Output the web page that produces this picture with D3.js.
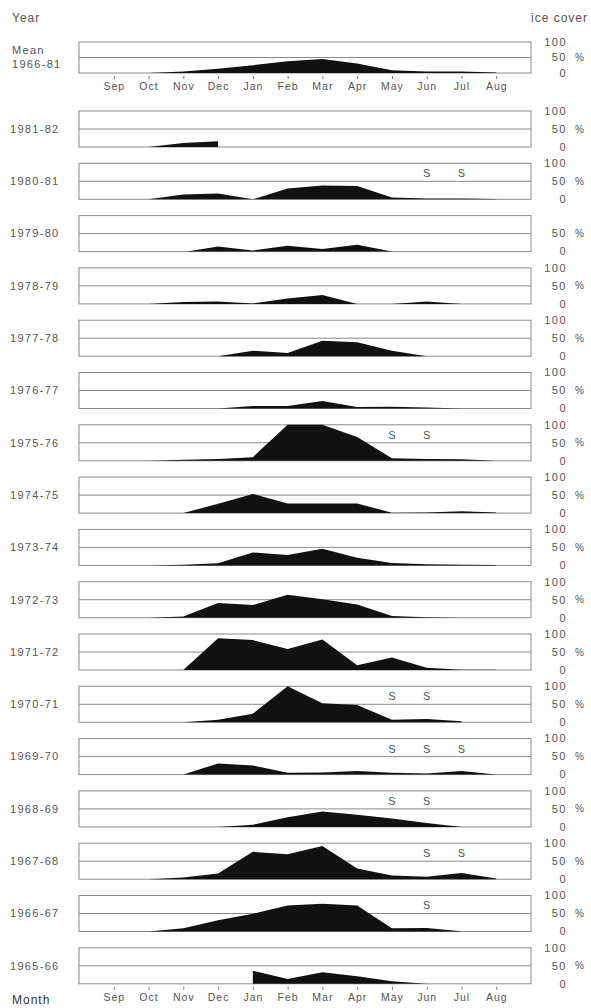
<!DOCTYPE html>
<html>
<head>
<meta charset="utf-8">
<script src="https://cdn.jsdelivr.net/npm/d3@7"></script>
<style>
  body { margin: 0; background: #fff; }
  svg text { font-family: "Liberation Sans", Arial, sans-serif; fill: #555; }
</style>
</head>
<body>
<svg id="chart" width="591" height="1008"></svg>
<script>
// month positions: 1 = Sep ... 12 = Aug
const months = ["Sep", "Oct", "Nov", "Dec", "Jan", "Feb", "Mar", "Apr", "May", "Jun", "Jul", "Aug"];

const years = ["1981-82", "1980-81", "1979-80", "1978-79", "1977-78", "1976-77", "1975-76",
  "1974-75", "1973-74", "1972-73", "1971-72", "1970-71", "1969-70", "1968-69",
  "1967-68", "1966-67", "1965-66"];

const meanCover = [[2,0],[3,5],[4,14],[5,25],[6,38],[7,45],[8,31],[9,9],[10,5],[11,5],[12,2]];

const cover8182 = [[2,0],[3,11],[4,16],[4,0]];
const cover8081 = [[2,0],[3,13],[4,16],[5,0],[6,30],[7,38],[8,37],[9,5],[10,2],[11,2],[12,1]];
const cover7980 = [[3.1,0],[4,14],[5,3],[6,16],[7,7],[8,19],[9,0]];
const cover7879 = [[2,0],[3,5],[4,7],[5,1],[6,15],[7,25],[8,0],[9,0],[10,7],[11,0]];
const cover7778 = [[4,0],[5,15],[6,9],[7,43],[8,39],[9,15],[10,0]];
const cover7677 = [[4,0],[5,7],[6,7],[7,21],[8,4],[9,5],[10,3],[11,0]];
const cover7576 = [[2,0],[3,3],[4,5],[5,10],[6,100],[7,100],[8,66],[9,7],[10,5],[11,4],[12,0]];
const cover7475 = [[3,0],[4,26],[5,53],[6,27],[7,27],[8,27],[9,1],[10,2],[11,5],[12,2]];
const cover7374 = [[2,0],[3,2],[4,6],[5,36],[6,29],[7,46],[8,21],[9,7],[10,3],[11,2],[12,1]];
const cover7273 = [[2,0],[3,3],[4,41],[5,35],[6,64],[7,51],[8,37],[9,5],[10,1],[11,0]];
const cover7172 = [[3,0],[4,88],[5,83],[6,58],[7,85],[8,13],[9,35],[10,6],[11,1],[12,1]];
const cover7071 = [[3,0],[4,7],[5,24],[6,100],[7,53],[8,48],[9,7],[10,9],[11,3]];
const cover6970 = [[3,0],[4,31],[5,25],[6,5],[7,6],[8,10],[9,5],[10,3],[11,10],[12,0]];
const cover6869 = [[4,0],[5,6],[6,27],[7,43],[8,34],[9,23],[10,11],[11,0]];
const cover6768 = [[2,0],[3,5],[4,16],[5,76],[6,69],[7,92],[8,30],[9,10],[10,7],[11,17],[12,2]];
const cover6667 = [[2,0],[3,9],[4,31],[5,49],[6,72],[7,77],[8,72],[9,9],[10,10],[11,1]];
const cover6566 = [[5,0],[5,36],[6,13],[7,32],[8,21],[9,7],[10,0]];

const yearCover = [cover8182, cover8081, cover7980, cover7879, cover7778, cover7677, cover7576,
  cover7475, cover7374, cover7273, cover7172, cover7071, cover6970, cover6869,
  cover6768, cover6667, cover6566];

// "S" marks: [year, month position]
const sMarks = [["1980-81",10],["1980-81",11],["1975-76",9],["1975-76",10],
  ["1970-71",9],["1970-71",10],["1969-70",9],["1969-70",10],["1969-70",11],
  ["1968-69",9],["1968-69",10],["1967-68",10],["1967-68",11],["1966-67",10]];

const noTopLabel = ["1979-80"];

const svg = d3.select("#chart");
const left = 79, right = 531;
const x = d3.scaleLinear().domain([0, 13]).range([left, right]);

function panel(top, height, label, data, withAxis) {
  const y = d3.scaleLinear().domain([0, 100]).range([top + height, top]);
  const g = svg.append("g");

  g.append("rect")
    .attr("x", left).attr("y", y(100))
    .attr("width", right - left).attr("height", y(0) - y(100))
    .attr("fill", "none").attr("stroke", "#8a8a8a").attr("stroke-width", 1);

  g.append("line")
    .attr("x1", left).attr("x2", right)
    .attr("y1", y(50)).attr("y2", y(50))
    .attr("stroke", "#8a8a8a").attr("stroke-width", 1);

  // ice cover area drawn over the grid
  const area = d3.area()
    .x(d => x(d[0]))
    .y0(y(0))
    .y1(d => y(d[1]));

  g.append("path")
    .datum(data)
    .attr("d", area)
    .attr("fill", "#111");

  // right-hand scale
  [100, 50, 0].forEach(v => {
    if (v === 100 && noTopLabel.includes(label[0])) return;
    g.append("text")
      .attr("x", 567).attr("y", y(v))
      .attr("dy", "0.35em")
      .attr("text-anchor", "end")
      .style("font-size", "11px")
      .style("letter-spacing", "1.5px")
      .text(v);
  });
  g.append("text")
    .attr("x", 575).attr("y", y(50))
    .attr("dy", "0.35em")
    .style("font-size", "10px")
    .text("%");

  // year label
  label.forEach((t, i) => {
    g.append("text")
      .attr("x", label.length > 1 ? 12 : 10)
      .attr("y", y(50) + (label.length > 1 ? (i - 0.5) * 14 : 0))
      .attr("dy", "0.35em")
      .style("font-size", "11px")
      .style("letter-spacing", "1.3px")
      .text(t);
  });

  sMarks.filter(s => s[0] === label[0]).forEach(s => {
    g.append("text")
      .attr("x", x(s[1])).attr("y", y(72))
      .attr("dy", "0.35em")
      .attr("text-anchor", "middle")
      .style("font-size", "11px")
      .text("S");
  });

  if (withAxis) {
    const ax = g.append("g")
      .attr("transform", "translate(0," + (y(0) + 3) + ")")
      .call(d3.axisBottom(x)
        .tickValues(d3.range(1, 13))
        .tickSize(3)
        .tickPadding(4)
        .tickFormat(i => months[i - 1]));
    ax.select(".domain").remove();
    ax.selectAll("line").attr("stroke", "#777");
    ax.selectAll("text")
      .style("font-size", "10.5px")
      .style("letter-spacing", "1px")
      .style("fill", "#555")
      .style("font-family", "'Liberation Sans', Arial, sans-serif");
  }
}

panel(42, 31, ["Mean", "1966-81"], meanCover, true);
years.forEach((yr, i) => {
  panel(111 + i * 52.3, 36, [yr], yearCover[i], i === years.length - 1);
});

svg.append("text")
  .attr("x", 12).attr("y", 22)
  .style("font-size", "12px").style("letter-spacing", "1px")
  .text("Year");

svg.append("text")
  .attr("x", 588).attr("y", 22)
  .attr("text-anchor", "end")
  .style("font-size", "12px").style("letter-spacing", "1px")
  .text("ice cover");

svg.append("text")
  .attr("x", 12).attr("y", 1004)
  .style("font-size", "12px").style("letter-spacing", "1px")
  .style("fill", "#333")
  .text("Month");
</script>
</body>
</html>
